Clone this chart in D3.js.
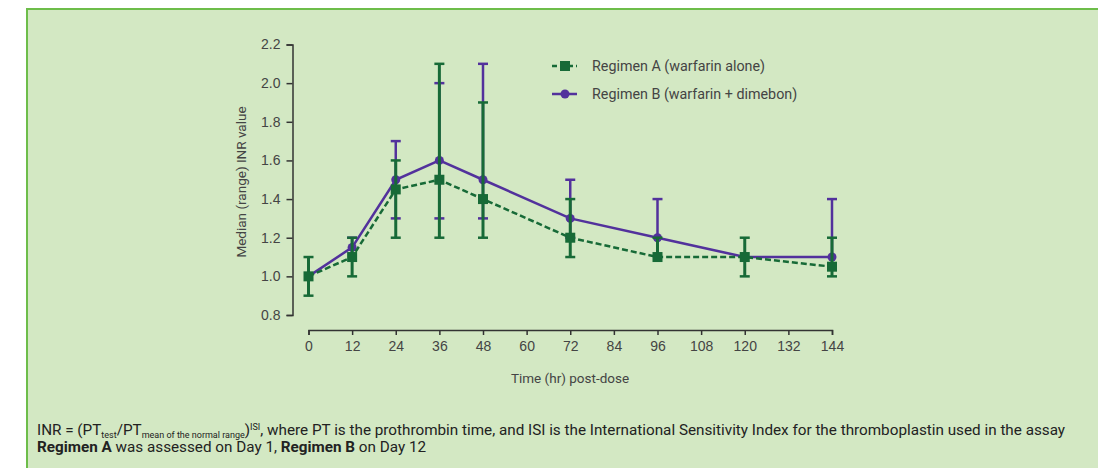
<!DOCTYPE html>
<html>
<head>
<meta charset="utf-8">
<script src="https://cdn.jsdelivr.net/npm/d3@7"></script>
<style>
  body { margin: 0; background: #fff; }
  svg { display: block; font-family: Roboto, "Liberation Sans", sans-serif; }
  .axis path, .axis line { stroke: #333; stroke-width: 1.5; }
  .axis text { fill: #444; font-size: 14px; }
  .label { fill: #444; font-size: 13.5px; }
  .legend-text { fill: #444; font-size: 14.3px; }
  .note { fill: #222; font-size: 15.25px; }
</style>
</head>
<body>
<svg width="1098" height="468"></svg>
<script>
// time points (hr post-dose)
let times = [0, 12, 24, 36, 48, 72, 96, 120, 144];

// Regimen A (warfarin alone): median, low, high
let regA = [1.0, 1.1, 1.45, 1.5, 1.4, 1.2, 1.1, 1.1, 1.05];
let regALow = [0.9, 1.0, 1.2, 1.2, 1.2, 1.1, 1.1, 1.0, 1.0];
let regAHigh = [1.1, 1.2, 1.6, 2.1, 1.9, 1.4, 1.2, 1.2, 1.2];

// Regimen B (warfarin + dimebon)
let regB = [1.0, 1.15, 1.5, 1.6, 1.5, 1.3, 1.2, 1.1, 1.1];
let regBLow = [1.0, 1.15, 1.3, 1.3, 1.3, 1.2, 1.2, 1.1, 1.1];
let regBHigh = [1.0, 1.2, 1.7, 2.0, 2.1, 1.5, 1.4, 1.1, 1.4];

let xTicks = [0, 12, 24, 36, 48, 60, 72, 84, 96, 108, 120, 132, 144];
let yTicks = [0.8, 1.0, 1.2, 1.4, 1.6, 1.8, 2.0, 2.2];

let legendLabels = ['Regimen A (warfarin alone)', 'Regimen B (warfarin + dimebon)'];

let green = '#176a37';
let purple = '#52319c';

let svg = d3.select('svg');

// background panel
svg.append('rect')
  .attr('x', 27).attr('y', 9)
  .attr('width', 1100).attr('height', 500)
  .attr('fill', '#d3e8c3')
  .attr('stroke', '#6dbd4a')
  .attr('stroke-width', 2);

let x = d3.scaleLinear().domain([0, 144]).range([308.5, 832]);
let y = d3.scaleLinear().domain([0.8, 2.2]).range([315, 44.5]);

// y axis
svg.append('g').attr('class', 'axis')
  .attr('transform', 'translate(292.5,0)')
  .call(d3.axisLeft(y).tickValues(yTicks).tickFormat(d3.format('.1f')).tickSizeOuter(0).tickSize(6).tickPadding(6));

// x axis, detached below
svg.append('g').attr('class', 'axis')
  .attr('transform', 'translate(0,330)')
  .call(d3.axisBottom(x).tickValues(xTicks).tickFormat(d3.format('d')).tickSizeOuter(0).tickSize(5).tickPadding(6));

svg.selectAll('.axis .domain').attr('stroke', '#333');

svg.append('text').attr('class', 'label')
  .attr('x', 570).attr('y', 383)
  .attr('text-anchor', 'middle')
  .text('Time (hr) post-dose');

svg.append('text').attr('class', 'label')
  .attr('transform', 'translate(246,182) rotate(-90)')
  .attr('text-anchor', 'middle')
  .text('Median (range) INR value');

function drawSeries(med, low, high, color, dashed, isSquare, barWidth) {
  let rows = times.map(function(t, i) {
    return { t: t, m: med[i], lo: low[i], hi: high[i] };
  });
  let g = svg.append('g');

  let line = d3.line().x(d => x(d.t)).y(d => y(d.m));
  g.append('path').datum(rows)
    .attr('d', line)
    .attr('fill', 'none')
    .attr('stroke', color)
    .attr('stroke-width', 2.5)
    .attr('stroke-dasharray', dashed ? '6,3' : null);

  let bars = g.selectAll('.bar').data(rows.filter(d => d.hi > d.lo)).enter().append('g');
  bars.append('line')
    .attr('x1', d => x(d.t)).attr('x2', d => x(d.t))
    .attr('y1', d => y(d.lo)).attr('y2', d => y(d.hi))
    .attr('stroke', color).attr('stroke-width', barWidth);
  [ 'lo', 'hi' ].forEach(function(k) {
    bars.filter(d => d[k] !== d.m).append('line')
      .attr('x1', d => x(d.t) - 5).attr('x2', d => x(d.t) + 5)
      .attr('y1', d => y(d[k])).attr('y2', d => y(d[k]))
      .attr('stroke', color).attr('stroke-width', 2.5);
  });

  if (isSquare) {
    g.selectAll('.pt').data(rows).enter().append('rect')
      .attr('x', d => x(d.t) - 5).attr('y', d => y(d.m) - 5)
      .attr('width', 10).attr('height', 10)
      .attr('fill', color);
  } else {
    g.selectAll('.pt').data(rows).enter().append('circle')
      .attr('cx', d => x(d.t)).attr('cy', d => y(d.m))
      .attr('r', 4.5).attr('fill', color);
  }
}

drawSeries(regB, regBLow, regBHigh, purple, false, false, 2.5);
drawSeries(regA, regALow, regAHigh, green, true, true, 3);

// legend
let legend = svg.append('g').attr('transform', 'translate(552,66)');
legend.append('line').attr('x1', 0).attr('x2', 25).attr('y1', 0).attr('y2', 0)
  .attr('stroke', green).attr('stroke-width', 2.5).attr('stroke-dasharray', '5,3');
legend.append('rect').attr('x', 8).attr('y', -5).attr('width', 10).attr('height', 10).attr('fill', green);
legend.append('line').attr('x1', 0).attr('x2', 25).attr('y1', 28).attr('y2', 28)
  .attr('stroke', purple).attr('stroke-width', 2.5);
legend.append('circle').attr('cx', 13).attr('cy', 28).attr('r', 4.5).attr('fill', purple);
legend.selectAll('.lt').data(legendLabels).enter().append('text')
  .attr('class', 'legend-text')
  .attr('x', 40).attr('y', (d, i) => i * 28 + 5)
  .text(d => d);

// footnotes
let n1 = svg.append('text').attr('class', 'note').attr('x', 37).attr('y', 435);
n1.append('tspan').text('INR = (PT');
n1.append('tspan').attr('font-size', '9px').attr('dy', 3).text('test');
n1.append('tspan').attr('dy', -3).text('/PT');
n1.append('tspan').attr('font-size', '9px').attr('dy', 3).text('mean of the normal range');
n1.append('tspan').attr('dy', -3).text(')');
n1.append('tspan').attr('font-size', '9px').attr('dy', -5).text('ISI');
n1.append('tspan').attr('dy', 5).text(', where PT is the prothrombin time, and ISI is the International Sensitivity Index for the thromboplastin used in the assay');

let n2 = svg.append('text').attr('class', 'note').attr('x', 37).attr('y', 452);
n2.append('tspan').attr('font-weight', 'bold').text('Regimen A');
n2.append('tspan').text(' was assessed on Day 1, ');
n2.append('tspan').attr('font-weight', 'bold').text('Regimen B');
n2.append('tspan').text(' on Day 12');
</script>
</body>
</html>
